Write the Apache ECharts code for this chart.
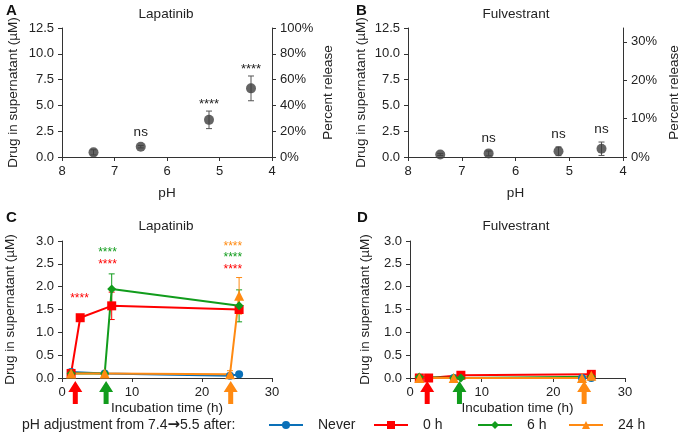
<!DOCTYPE html>
<html>
<head>
<meta charset="utf-8">
<script src="https://cdn.jsdelivr.net/npm/echarts@6/dist/echarts.min.js"></script>
<style>html,body{margin:0;padding:0;background:#fff}#main{width:682px;height:436px}</style>
</head>
<body>
<div id="main"></div>
<script>
// A / B: release vs pH
var phLevels = [7.4, 6.5, 5.2, 4.4];
var lapMean = [0.45, 1.0, 3.6, 6.65];
var lapErr = [0.25, 0.12, 0.85, 1.2];
var lapSig = ['', 'ns', '****', '****'];
var fulMean = [0.25, 0.35, 0.55, 0.8];
var fulErr = [0.1, 0.23, 0.42, 0.65];
var fulSig = ['', 'ns', 'ns', 'ns'];

// C / D: time course, [time h, value uM, sd]
var groups = ['Never', '0 h', '6 h', '24 h'];
var lapCourse = {
  'Never': [[1.3, 0.13, 0.02], [6.1, 0.1, 0.02], [24, 0.05, 0.02], [25.3, 0.08, 0.02]],
  '0 h': [[1.3, 0.1, 0.02], [2.6, 1.32, 0.03], [7.1, 1.58, 0.3], [25.3, 1.5, 0.06]],
  '6 h': [[1.3, 0.1, 0.02], [6.1, 0.1, 0.02], [7.1, 1.95, 0.33], [25.3, 1.58, 0.35]],
  '24 h': [[1.3, 0.1, 0.02], [6.1, 0.1, 0.02], [24, 0.08, 0.08], [25.3, 1.8, 0.4]]
};
var fulCourse = {
  'Never': [[1.3, 0.0, 0], [6.1, 0.0, 0], [24, 0.0, 0], [25.3, 0.0, 0]],
  '0 h': [[1.3, 0.0, 0], [2.6, 0.0, 0], [7.1, 0.06, 0], [25.3, 0.08, 0.01]],
  '6 h': [[1.3, 0.02, 0], [6.1, 0.0, 0], [7.1, 0.0, 0], [25.3, 0.03, 0]],
  '24 h': [[1.3, 0.0, 0], [6.1, 0.0, 0], [24, 0.0, 0], [25.3, 0.05, 0.01]]
};
// significance marks in C: [time, level, group]
var lapCourseSig = [[2.5, 1.8, '0 h'], [6.5, 2.82, '6 h'], [6.5, 2.54, '0 h'],
  [24.4, 2.95, '24 h'], [24.4, 2.69, '6 h'], [24.4, 2.43, '0 h']];
// pH adjustment arrows
var arrowGroups = ['0 h', '6 h', '24 h'];
var arrowTimesC = [1.9, 6.3, 24.1];
var arrowTimesD = [2.4, 6.9, 24.3];

var colors = { 'Never': '#0a70b8', '0 h': '#ff0000', '6 h': '#119c1c', '24 h': '#ff8a12' };
var symbols = { 'Never': 'circle', '0 h': 'rect', '6 h': 'diamond', '24 h': 'triangle' };
var symSize = { 'Never': 8, '0 h': 9, '6 h': 9, '24 h': 10 };
var FONT = 'Liberation Sans, Arial, sans-serif';
var axisCol = '#333';

var myChart = echarts.init(document.getElementById('main'));

function errSeries(xi, data, color, cap) {
  return {
    type: 'custom', xAxisIndex: xi, yAxisIndex: xi, clip: false, z: 3, silent: true,
    data: data,
    renderItem: function (params, api) {
      var x = api.value(0), y = api.value(1), e = api.value(2);
      if (!e) return null;
      var hi = api.coord([x, y + e]);
      var lo = api.coord([x, Math.max(0, y - e)]);
      var st = { stroke: color, lineWidth: 1 };
      return {
        type: 'group', children: [
          { type: 'line', shape: { x1: hi[0], y1: hi[1], x2: lo[0], y2: lo[1] }, style: st },
          { type: 'line', shape: { x1: hi[0] - cap, y1: hi[1], x2: hi[0] + cap, y2: hi[1] }, style: st },
          { type: 'line', shape: { x1: lo[0] - cap, y1: lo[1], x2: lo[0] + cap, y2: lo[1] }, style: st }
        ]
      };
    }
  };
}

function sigSeries(xi, mean, err, sig) {
  return {
    type: 'custom', xAxisIndex: xi, yAxisIndex: xi, clip: false, silent: true,
    data: phLevels.map(function (p, i) { return [p, mean[i] + err[i]]; }),
    renderItem: function (params, api) {
      var t = sig[params.dataIndex];
      if (!t) return null;
      var pt = api.coord([api.value(0), api.value(1)]);
      var ns = t === 'ns';
      return {
        type: 'text', x: pt[0], y: pt[1] - (ns ? 13 : 7),
        style: { text: t, fill: '#222', fontSize: ns ? 13.5 : 13, fontFamily: FONT, align: 'center', verticalAlign: 'middle' }
      };
    }
  };
}

function arrowSeries(xi, times) {
  return {
    type: 'custom', xAxisIndex: xi, yAxisIndex: xi, clip: false, silent: true, z: 5,
    data: times.map(function (t) { return [t, 0]; }),
    renderItem: function (params, api) {
      var p = api.coord([api.value(0), 0]);
      var x = p[0], y = p[1] + 3;
      return {
        type: 'polygon',
        shape: { points: [[x, y], [x + 7, y + 11], [x + 2.5, y + 11], [x + 2.5, y + 23], [x - 2.5, y + 23], [x - 2.5, y + 11], [x - 7, y + 11]] },
        style: { fill: colors[arrowGroups[params.dataIndex]] }
      };
    }
  };
}

function xAx(gi, opt) {
  return Object.assign({
    type: 'value', gridIndex: gi, nameLocation: 'middle',
    nameTextStyle: { fontSize: 13.5, color: '#222', fontFamily: FONT },
    axisLine: { lineStyle: { color: axisCol, width: 1 } },
    axisTick: { length: 4, lineStyle: { color: axisCol } },
    axisLabel: { fontSize: 13, color: '#222', margin: 8, fontFamily: FONT },
    splitLine: { show: false }
  }, opt);
}
function yAx(gi, opt) {
  return Object.assign({
    type: 'value', gridIndex: gi, nameLocation: 'middle', nameRotate: 90,
    nameTextStyle: { fontSize: 13.5, color: '#222', fontFamily: FONT },
    axisLine: { show: true, lineStyle: { color: axisCol, width: 1 } },
    axisTick: { show: true, length: 4, lineStyle: { color: axisCol } },
    axisLabel: { fontSize: 13, color: '#222', margin: 8, fontFamily: FONT },
    splitLine: { show: false }
  }, opt);
}
var yName = 'Drug in supernatant (\u00b5M)';
var oneDec = function (v) { return v.toFixed(1); };
var yLab = { fontSize: 13, color: '#222', margin: 8, fontFamily: FONT, formatter: oneDec };

var series = [];
// A, B
series.push(errSeries(0, phLevels.map(function (p, i) { return [p, lapMean[i], lapErr[i]]; }), '#555', 3));
series.push({ type: 'scatter', xAxisIndex: 0, yAxisIndex: 0, symbolSize: 10, itemStyle: { color: '#3d3d3d' }, z: 4,
  data: phLevels.map(function (p, i) { return [p, lapMean[i]]; }) });
series.push(sigSeries(0, lapMean, lapErr, lapSig));
series.push(errSeries(1, phLevels.map(function (p, i) { return [p, fulMean[i], fulErr[i]]; }), '#555', 3));
series.push({ type: 'scatter', xAxisIndex: 1, yAxisIndex: 1, symbolSize: 10, itemStyle: { color: '#3d3d3d' }, z: 4,
  data: phLevels.map(function (p, i) { return [p, fulMean[i]]; }) });
series.push(sigSeries(1, fulMean, fulErr, fulSig));

// C, D
[[2, lapCourse], [3, fulCourse]].forEach(function (pair) {
  var xi = pair[0], course = pair[1];
  groups.forEach(function (g) {
    series.push(errSeries(xi, course[g], colors[g], 3));
    series.push({
      name: g, type: 'line', xAxisIndex: xi, yAxisIndex: xi,
      data: course[g].map(function (d) { return [d[0], d[1]]; }),
      symbol: symbols[g], symbolSize: symSize[g], showAllSymbol: true,
      lineStyle: { color: colors[g], width: 2 }, itemStyle: { color: colors[g] }, z: 4
    });
  });
});
series.push({
  type: 'custom', xAxisIndex: 2, yAxisIndex: 2, clip: false, silent: true,
  data: lapCourseSig.map(function (d) { return [d[0], d[1]]; }),
  renderItem: function (params, api) {
    var pt = api.coord([api.value(0), api.value(1)]);
    return { type: 'text', x: pt[0], y: pt[1] + 3,
      style: { text: '****', fill: colors[lapCourseSig[params.dataIndex][2]], fontSize: 12, fontFamily: FONT, align: 'center', verticalAlign: 'middle' } };
  }
});
series.push(arrowSeries(2, arrowTimesC));
series.push(arrowSeries(3, arrowTimesD));

var titleStyle = { fontSize: 13.5, fontWeight: 'normal', color: '#222', fontFamily: FONT };
var footStyle = { fontSize: 14, fontWeight: 'normal', color: '#222', fontFamily: FONT,
  rich: { arr: { fontSize: 15, fontWeight: 'bold', fontFamily: 'DejaVu Sans', color: '#222' } } };
var letterStyle = { fontSize: 15, fontWeight: 'bold', color: '#111', fontFamily: FONT };
var legendLeft = [268, 373, 477, 568];

var option = {
  animation: false,
  textStyle: { fontFamily: FONT },
  title: [
    { text: 'A', left: 6, top: 3, textStyle: letterStyle, padding: 0 },
    { text: 'B', left: 356, top: 3, textStyle: letterStyle, padding: 0 },
    { text: 'C', left: 6, top: 210, textStyle: letterStyle, padding: 0 },
    { text: 'D', left: 357, top: 210, textStyle: letterStyle, padding: 0 },
    { text: 'Lapatinib', left: 166, top: 7, textAlign: 'center', textStyle: titleStyle, padding: 0 },
    { text: 'Fulvestrant', left: 516, top: 7, textAlign: 'center', textStyle: titleStyle, padding: 0 },
    { text: 'Lapatinib', left: 166, top: 219, textAlign: 'center', textStyle: titleStyle, padding: 0 },
    { text: 'Fulvestrant', left: 516, top: 219, textAlign: 'center', textStyle: titleStyle, padding: 0 },
    { text: 'pH adjustment from 7.4{arr|\u2192}5.5 after:', left: 22, top: 418, textStyle: footStyle, padding: 0 }
  ],
  legend: groups.map(function (g, i) {
    return { data: [g], left: legendLeft[i], top: 418, itemWidth: 34, itemHeight: 10, padding: 0,
      textStyle: { fontSize: 14, color: '#222', fontFamily: FONT, padding: [0, 0, 0, 10] } };
  }),
  grid: [
    { left: 62, top: 28, width: 210, height: 129 },
    { left: 408, top: 28, width: 215, height: 129 },
    { left: 62, top: 241, width: 210, height: 137 },
    { left: 410, top: 241, width: 215, height: 137 }
  ],
  xAxis: [
    xAx(0, { min: 4, max: 8, interval: 1, inverse: true, name: 'pH', nameGap: 29 }),
    xAx(1, { min: 4, max: 8, interval: 1, inverse: true, name: 'pH', nameGap: 29 }),
    xAx(2, { min: 0, max: 30, interval: 10, name: 'Incubation time (h)', nameGap: 23 }),
    xAx(3, { min: 0, max: 30, interval: 10, name: 'Incubation time (h)', nameGap: 23 })
  ],
  yAxis: [
    yAx(0, { min: 0, max: 12.5, interval: 2.5, name: yName, nameGap: 42, axisLabel: yLab }),
    yAx(1, { min: 0, max: 12.5, interval: 2.5, name: yName, nameGap: 40, axisLabel: yLab }),
    yAx(2, { min: 0, max: 3, interval: 0.5, name: yName, nameGap: 45, axisLabel: yLab }),
    yAx(3, { min: 0, max: 3, interval: 0.5, name: yName, nameGap: 38, axisLabel: yLab }),
    yAx(0, { position: 'right', min: 0, max: 100, interval: 20, name: 'Percent release', nameGap: 49,
      axisLabel: { fontSize: 13, color: '#222', margin: 8, fontFamily: FONT, formatter: '{value}%' } }),
    yAx(1, { position: 'right', min: 0, max: 33.6, interval: 10, name: 'Percent release', nameGap: 44,
      axisLabel: { fontSize: 13, color: '#222', margin: 8, fontFamily: FONT, showMaxLabel: false,
        formatter: function (v) { return v % 10 === 0 ? v + '%' : ''; } } })
  ],
  series: series
};
myChart.setOption(option);
window.addEventListener('resize', function () { myChart.resize(); });
</script>
</body>
</html>
